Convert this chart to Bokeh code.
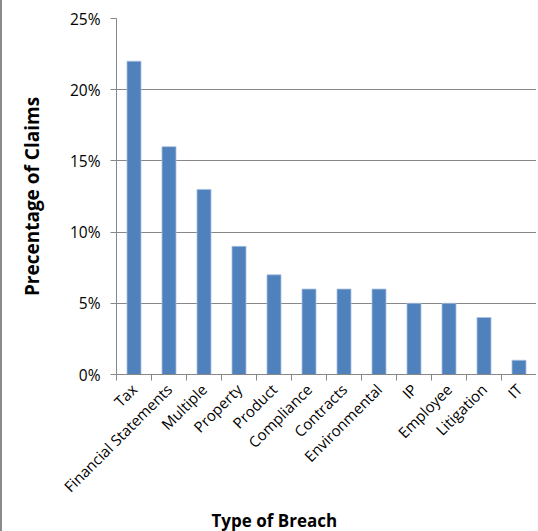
import math
from bokeh.plotting import figure
from bokeh.models import (Range1d, LinearAxis, FixedTicker, PrintfTickFormatter, Title,
                          CustomJSTickFormatter)
from bokeh.embed import file_html
from bokeh.resources import INLINE

categories = ["Tax", "Financial Statements", "Multiple", "Property", "Product", "Compliance",
              "Contracts", "Environmental", "IP", "Employee", "Litigation", "IT"]
values = [22, 16, 13, 9, 7, 6, 6, 6, 5, 5, 4, 1]
y_ticks = [0, 5, 10, 15, 20, 25]

FONT = "Open Sans"
GRAY = "#878787"

n = len(categories)
centers = [i + 0.5 for i in range(n)]

p = figure(width=536, height=531, output_backend="svg", toolbar_location=None,
           x_range=Range1d(0, n), y_range=Range1d(0, 25),
           x_axis_location=None, min_border_left=114, min_border_right=2,
           min_border_top=18, min_border_bottom=154,
           styles={"border-left": "2px solid #8a8a8a", "box-sizing": "border-box"})
p.outline_line_color = None

p.vbar(x=centers, top=values, width=0.4, fill_color="#4F81BD",
       line_color="#a9c0df", line_width=0.8)

# axis with boundary ticks (Excel style)
ax_ticks = LinearAxis(ticker=FixedTicker(ticks=list(range(n + 1))))
ax_ticks.axis_line_color = GRAY
ax_ticks.major_tick_line_color = GRAY
ax_ticks.major_tick_out = 6
ax_ticks.major_tick_in = 0
ax_ticks.minor_tick_line_color = None
ax_ticks.major_label_text_font_size = "0px"
ax_ticks.major_label_text_color = None
ax_ticks.major_label_standoff = 0
p.add_layout(ax_ticks, "below")

# labels axis
ax_lab = LinearAxis(ticker=FixedTicker(ticks=centers),
                    formatter=CustomJSTickFormatter(args=dict(labels=categories),
                                                    code="return labels[Math.floor(tick)] || '';"))
ax_lab.axis_line_color = None
ax_lab.major_tick_line_color = None
ax_lab.minor_tick_line_color = None
ax_lab.major_label_orientation = math.pi / 4
ax_lab.major_label_text_font = FONT
ax_lab.major_label_text_font_size = "15px"
ax_lab.major_label_text_color = "#000000"
ax_lab.major_label_standoff = 0
p.add_layout(ax_lab, "below")

yax = p.yaxis[0]
yax.ticker = FixedTicker(ticks=y_ticks)
yax.formatter = PrintfTickFormatter(format="%d%%")
yax.axis_line_color = GRAY
yax.major_tick_line_color = GRAY
yax.major_tick_out = 6
yax.major_tick_in = 0
yax.minor_tick_line_color = None
yax.major_label_text_font = FONT
yax.major_label_text_font_size = "15.5px"
yax.major_label_text_color = "#000000"
yax.major_label_standoff = 10
yax.axis_label = "Precentage of Claims"
yax.axis_label_text_font = FONT
yax.axis_label_text_font_style = "bold"
yax.axis_label_text_font_size = "19px"
yax.axis_label_text_color = "#000000"
yax.axis_label_standoff = 22

p.xgrid.grid_line_color = None
p.ygrid.grid_line_color = GRAY
p.ygrid.grid_line_width = 1

p.add_layout(Title(text="Type of Breach", align="left", offset=95, text_font=FONT,
                   text_font_size="17px", text_font_style="bold", text_color="#000000",
                   standoff=0), "below")

open("out.html", "w").write(file_html(p, INLINE))
